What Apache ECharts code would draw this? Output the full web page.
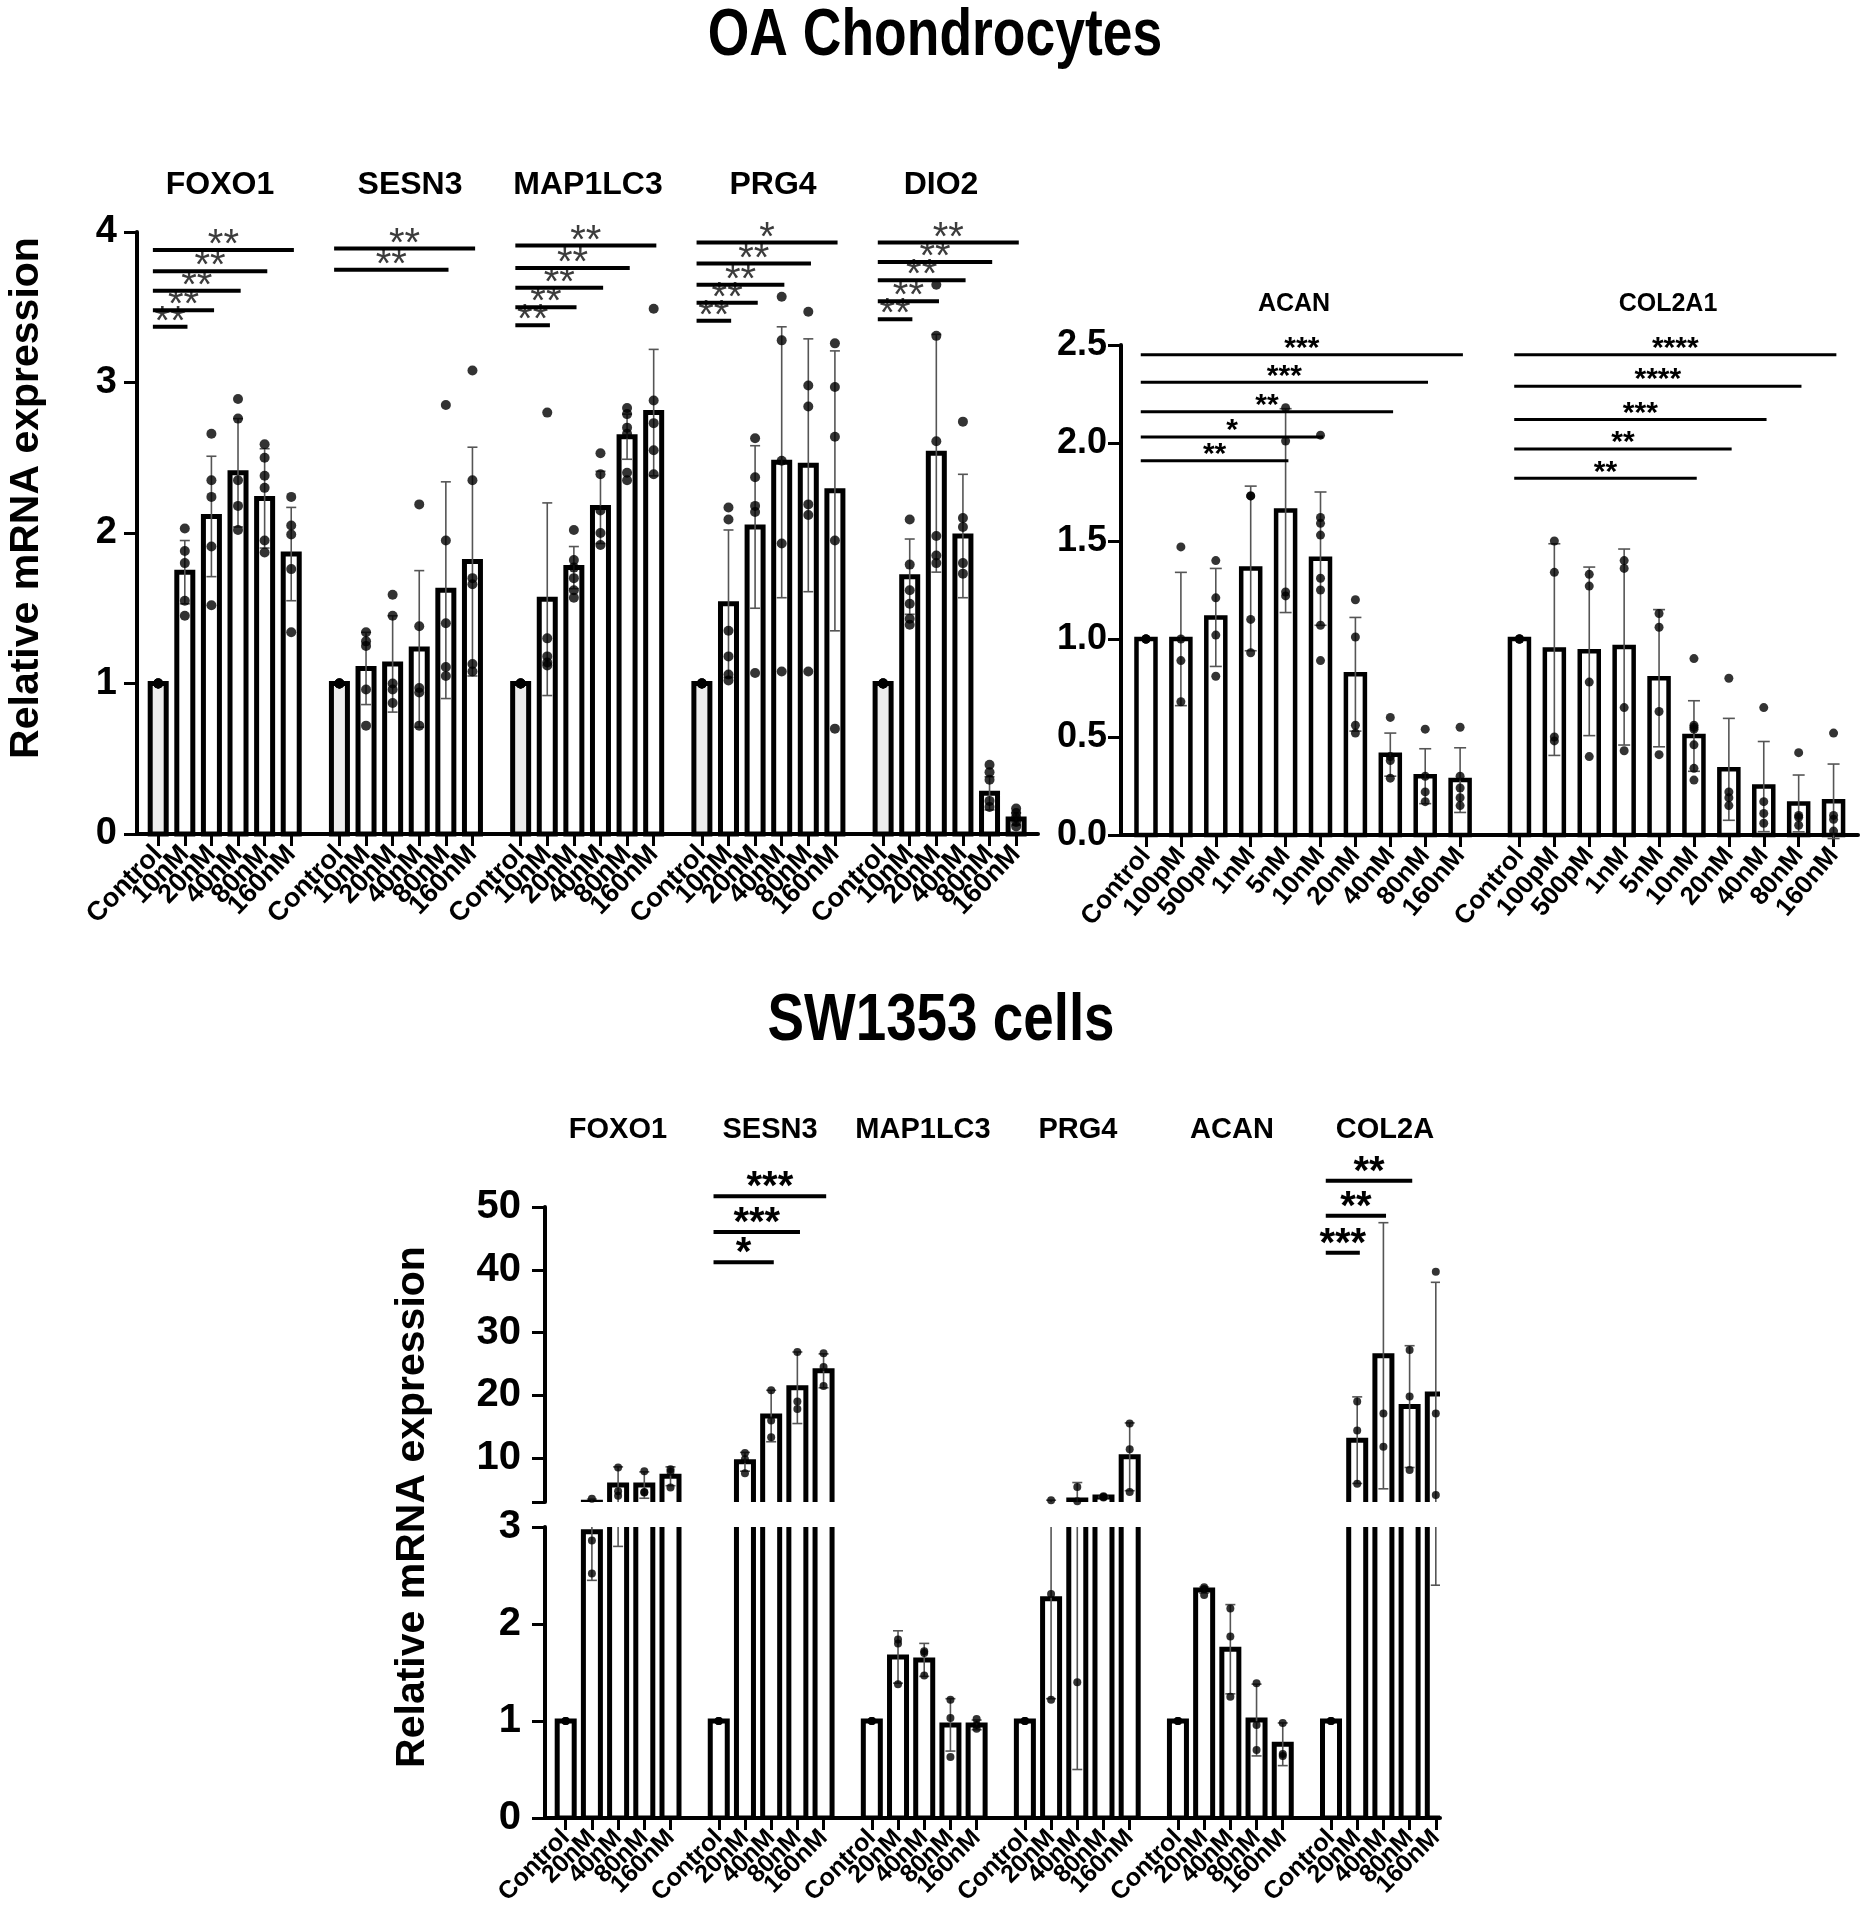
<!DOCTYPE html>
<html>
<head>
<meta charset="utf-8">
<script src="https://cdn.jsdelivr.net/npm/echarts@6/dist/echarts.min.js"></script>
<style>html,body{margin:0;padding:0;background:#fff}#chart{width:1868px;height:1920px}</style>
</head>
<body>
<div id="chart"></div>
<script>
// ================= DATA =================
// --- OA chondrocytes, left panel ---
const doseA = ['Control', '10nM', '20nM', '40nM', '80nM', '160nM'];
const genesA = ['FOXO1', 'SESN3', 'MAP1LC3', 'PRG4', 'DIO2'];

const FOXO1_mean = [1.00, 1.74, 2.11, 2.40, 2.23, 1.86];
const FOXO1_sd   = [0, 0.21, 0.40, 0.36, 0.33, 0.31];
const FOXO1_pts  = [[1,1,1,1,1],[2.03,1.88,1.80,1.55,1.45],[2.66,2.35,2.24,1.91,1.52],[2.89,2.76,2.35,2.18,2.02],[2.59,2.50,2.38,2.30,1.95,1.87],[2.24,2.05,1.99,1.76,1.34]];
const FOXO1_sig  = [[1,3.37,'**'],[2,3.48,'**'],[3,3.61,'**'],[4,3.74,'**'],[5,3.88,'**']];

const SESN3_mean = [1.00, 1.10, 1.13, 1.23, 1.62, 1.81];
const SESN3_sd   = [0, 0.24, 0.32, 0.52, 0.72, 0.76];
const SESN3_pts  = [[1,1,1,1,1],[1.34,1.28,1.25,0.96,0.72],[1.59,1.45,1.00,0.96,0.87],[2.19,1.38,0.97,0.94,0.72],[2.85,1.95,1.40,1.11,1.05],[3.08,2.35,1.70,1.66,1.13,1.08]];
const SESN3_sig  = [[4,3.75,'**'],[5,3.89,'**']];

const MAP1LC3_mean = [1.00, 1.56, 1.77, 2.17, 2.64, 2.80];
const MAP1LC3_sd   = [0, 0.64, 0.14, 0.24, 0.15, 0.42];
const MAP1LC3_pts  = [[1,1,1,1,1],[2.80,1.30,1.18,1.14,1.12],[2.02,1.82,1.77,1.70,1.62,1.57],[2.53,2.39,2.15,2.00,1.92],[2.83,2.79,2.70,2.66,2.40,2.35],[3.49,2.88,2.73,2.55,2.39]];
const MAP1LC3_sig  = [[1,3.38,'**'],[2,3.50,'**'],[3,3.63,'**'],[4,3.76,'**'],[5,3.91,'**']];

const PRG4_mean = [1.00, 1.53, 2.04, 2.47, 2.45, 2.28];
const PRG4_sd   = [0, 0.49, 0.54, 0.90, 0.84, 0.93];
const PRG4_pts  = [[1,1,1,1,1],[2.17,2.09,1.35,1.18,1.06,1.02],[2.63,2.37,2.18,2.14,1.07],[3.57,3.28,2.48,1.93,1.08],[3.47,2.98,2.84,2.19,2.12,1.08],[3.26,2.97,2.64,1.95,0.70]];
const PRG4_sig  = [[1,3.41,'**'],[2,3.53,'**'],[3,3.65,'**'],[4,3.79,'**'],[5,3.93,'*']];

const DIO2_mean = [1.00, 1.71, 2.53, 1.98, 0.27, 0.10];
const DIO2_sd   = [0, 0.25, 0.79, 0.41, 0.11, 0.04];
const DIO2_pts  = [[1,1,1,1,1],[2.09,1.79,1.62,1.53,1.43,1.39],[3.65,3.31,2.61,1.98,1.85,1.80],[2.74,2.10,2.04,1.80,1.73],[0.46,0.41,0.36,0.22,0.18],[0.17,0.14,0.11,0.08,0.05]];
const DIO2_sig  = [[1,3.42,'**'],[2,3.54,'**'],[3,3.68,'**'],[4,3.80,'**'],[5,3.93,'**']];

// --- OA chondrocytes, right panel ---
const doseB = ['Control', '100pM', '500pM', '1nM', '5nM', '10nM', '20nM', '40nM', '80nM', '160nM'];
const genesB = ['ACAN', 'COL2A1'];

const ACAN_mean = [1.00, 1.00, 1.11, 1.36, 1.655, 1.41, 0.82, 0.41, 0.30, 0.28];
const ACAN_sd   = [0, 0.34, 0.25, 0.42, 0.52, 0.34, 0.29, 0.11, 0.14, 0.165];
const ACAN_pts  = [[1,1,1,1],[1.47,1.00,0.89,0.68],[1.40,1.21,1.02,0.81],[1.73,1.73,1.10,0.93],[2.18,2.01,1.24,1.22],[2.04,1.62,1.59,1.53,1.31,1.25,1.07,0.89],[1.20,1.01,0.56,0.52],[0.60,0.40,0.38,0.29],[0.54,0.30,0.22,0.17],[0.55,0.30,0.24,0.19,0.15]];
const ACAN_sig  = [[4,1.91,'**'],[5,2.03,'*'],[7,2.16,'**'],[8,2.31,'***'],[9,2.45,'***']];

const COL2A1_mean = [1.00, 0.946, 0.937, 0.959, 0.80, 0.505, 0.335, 0.247, 0.161, 0.172];
const COL2A1_sd   = [0, 0.54, 0.43, 0.50, 0.35, 0.18, 0.26, 0.23, 0.145, 0.19];
const COL2A1_pts  = [[1,1,1,1],[1.50,1.34,0.50,0.48],[1.33,1.27,0.78,0.40],[1.40,1.36,0.65,0.43],[1.13,1.06,0.63,0.41],[0.90,0.56,0.55,0.54,0.46,0.34,0.28],[0.80,0.22,0.19,0.15],[0.65,0.17,0.11,0.06],[0.42,0.10,0.09,0.05],[0.52,0.10,0.08,0.02]];
const COL2A1_sig  = [[5,1.82,'**'],[6,1.97,'**'],[7,2.12,'***'],[8,2.29,'****'],[9,2.45,'****']];

// --- SW1353 cells ---
const doseC = ['Control', '20nM', '40nM', '80nM', '160nM'];
const genesC = ['FOXO1', 'SESN3', 'MAP1LC3', 'PRG4', 'ACAN', 'COL2A'];

const swFOXO1_mean = [1, 2.95, 5.7, 5.7, 7.1];
const swFOXO1_sd   = [0, 0.5, 2.9, 2.1, 1.5];
const swFOXO1_pts  = [[1,1,1],[3.5,2.86,2.52],[8.5,4.7,4.0],[7.9,4.6,4.5],[8.2,7.8,5.3]];

const swSESN3_mean = [1, 9.4, 16.7, 21.2, 23.9];
const swSESN3_sd   = [0, 1.5, 4.1, 5.7, 2.7];
const swSESN3_pts  = [[1,1,1],[10.8,9.8,7.6],[20.8,16.0,13.3],[26.9,19.0,17.8],[26.7,24.5,21.5]];
const swSESN3_sig  = [[2,41.2,'*'],[3,46.0,'***'],[4,51.7,'***']];

const swMAP1LC3_mean = [1, 1.66, 1.63, 0.96, 0.96];
const swMAP1LC3_sd   = [0, 0.27, 0.17, 0.27, 0.05];
const swMAP1LC3_pts  = [[1,1,1],[1.84,1.80,1.38],[1.72,1.70,1.47],[1.22,1.03,0.63],[1.02,0.96,0.92]];

const swPRG4_mean = [1, 2.26, 3.3, 3.8, 10.2];
const swPRG4_sd   = [0, 1.03, 2.8, 0.1, 5.4];
const swPRG4_pts  = [[1,1,1],[3.27,2.31,1.22],[5.4,3.1,1.4],[3.9,3.8,3.7],[15.5,11.4,4.6]];

const swACAN_mean = [1, 2.35, 1.74, 1.01, 0.76];
const swACAN_sd   = [0, 0.03, 0.46, 0.37, 0.22];
const swACAN_pts  = [[1,1,1],[2.38,2.36,2.30],[2.16,1.87,1.25],[1.39,0.96,0.70],[0.98,0.66,0.64]];

const swCOL2A_mean = [1, 12.85, 26.3, 18.2, 20.2];
const swCOL2A_sd   = [0, 6.9, 21.2, 9.7, 17.8];
const swCOL2A_pts  = [[1,1,1],[19.0,14.4,5.9],[17.1,11.8],[27.2,19.8,8.1],[39.7,17.1,4.1]];
const swCOL2A_sig  = [[1,42.7,'***'],[2,48.6,'**'],[3,54.2,'**']];

const ticksCUpper = [3, 10, 20, 30, 40, 50];
const labelsCUpper = [10, 20, 30, 40, 50];

// ================= BUILD =================
const FONT = '"Liberation Sans", Arial, Helvetica, sans-serif';

function assemble(genes, list, doses, step) {
  const bars = [], errs = [], dots = [], sigs = [], sigText = [], ticks = [], labels = {};
  genes.forEach((name, gi) => {
    const g = list[gi];
    doses.forEach((d, i) => {
      const x = +(gi * step + i).toFixed(3);
      ticks.push(x);
      labels[Math.round(x * 1000)] = d;
      bars.push([x, g.mean[i], i === 0 ? 1 : 0]);
      if (g.sd[i] > 0) errs.push([x, g.mean[i] - g.sd[i], g.mean[i] + g.sd[i]]);
      g.pts[i].forEach(v => dots.push([x, v]));
    });
    (g.sig || []).forEach(s => {
      sigs.push([gi * step, gi * step + s[0], s[1]]);
      sigText.push(s[2]);
    });
  });
  return { bars, errs, dots, sigs, sigText, ticks, labels };
}

const A = assemble(genesA, [
  { mean: FOXO1_mean, sd: FOXO1_sd, pts: FOXO1_pts, sig: FOXO1_sig },
  { mean: SESN3_mean, sd: SESN3_sd, pts: SESN3_pts, sig: SESN3_sig },
  { mean: MAP1LC3_mean, sd: MAP1LC3_sd, pts: MAP1LC3_pts, sig: MAP1LC3_sig },
  { mean: PRG4_mean, sd: PRG4_sd, pts: PRG4_pts, sig: PRG4_sig },
  { mean: DIO2_mean, sd: DIO2_sd, pts: DIO2_pts, sig: DIO2_sig }
], doseA, 6.812);

const B = assemble(genesB, [
  { mean: ACAN_mean, sd: ACAN_sd, pts: ACAN_pts, sig: ACAN_sig },
  { mean: COL2A1_mean, sd: COL2A1_sd, pts: COL2A1_pts, sig: COL2A1_sig }
], doseB, 10.70);

const C = assemble(genesC, [
  { mean: swFOXO1_mean, sd: swFOXO1_sd, pts: swFOXO1_pts },
  { mean: swSESN3_mean, sd: swSESN3_sd, pts: swSESN3_pts, sig: swSESN3_sig },
  { mean: swMAP1LC3_mean, sd: swMAP1LC3_sd, pts: swMAP1LC3_pts },
  { mean: swPRG4_mean, sd: swPRG4_sd, pts: swPRG4_pts },
  { mean: swACAN_mean, sd: swACAN_sd, pts: swACAN_pts },
  { mean: swCOL2A_mean, sd: swCOL2A_sd, pts: swCOL2A_pts, sig: swCOL2A_sig }
], doseC, 5.842);

function barSeries(ax, data, bw, lw, ctrlFill, clip) {
  return {
    type: 'custom', xAxisIndex: ax, yAxisIndex: ax, clip: clip, z: 2, data: data,
    encode: { x: 0, y: 1 },
    renderItem: function (p, api) {
      const x = api.value(0), m = api.value(1), c = api.value(2);
      const b = api.coord([x, 0]), t = api.coord([x, m]);
      return {
        type: 'rect',
        shape: { x: b[0] - bw / 2, y: t[1], width: bw, height: b[1] - t[1] },
        style: { fill: c ? ctrlFill : '#ffffff', stroke: '#000', lineWidth: lw }
      };
    }
  };
}
function errSeries(ax, data, capW, lw, col, clip) {
  return {
    type: 'custom', xAxisIndex: ax, yAxisIndex: ax, clip: clip, z: 3, data: data,
    encode: { x: 0, y: [1, 2] },
    renderItem: function (p, api) {
      const x = api.value(0);
      const lo = api.coord([x, api.value(1)]), hi = api.coord([x, api.value(2)]);
      const h = capW / 2, st = { stroke: col, lineWidth: lw };
      return {
        type: 'group', children: [
          { type: 'line', shape: { x1: lo[0], y1: lo[1], x2: hi[0], y2: hi[1] }, style: st },
          { type: 'line', shape: { x1: hi[0] - h, y1: hi[1], x2: hi[0] + h, y2: hi[1] }, style: st },
          { type: 'line', shape: { x1: lo[0] - h, y1: lo[1], x2: lo[0] + h, y2: lo[1] }, style: st }
        ]
      };
    }
  };
}
function dotSeries(ax, data, size) {
  return {
    type: 'scatter', xAxisIndex: ax, yAxisIndex: ax, z: 4, data: data, symbolSize: size,
    itemStyle: { color: '#000' }, clip: true, silent: true
  };
}
function sigSeries(ax, data, texts, o) {
  return {
    type: 'custom', xAxisIndex: ax, yAxisIndex: ax, clip: false, z: 5, data: data,
    encode: { x: [0, 1], y: 2 },
    renderItem: function (p, api) {
      const a = api.coord([api.value(0) + o.s, api.value(2)]);
      const b = api.coord([api.value(1) + o.e, api.value(2)]);
      return {
        type: 'group', children: [
          { type: 'line', shape: { x1: a[0], y1: a[1], x2: b[0], y2: b[1] }, style: { stroke: '#000', lineWidth: o.lw } },
          { type: 'text', x: (a[0] + b[0]) / 2, y: a[1] - o.off,
            style: { text: texts[p.dataIndex], fill: o.col, fontSize: o.fs, fontWeight: o.fw, fontFamily: FONT,
                     align: 'center', verticalAlign: 'middle' } }
        ]
      };
    }
  };
}
function xAxisCfg(ax, min, max, d, rot, fs, show) {
  // empty guard labels at both ends keep the real end labels from being dropped
  const labelVals = [min + 0.001].concat(d.ticks, [max - 0.001]);
  return {
    gridIndex: ax, type: 'value', min: min, max: max, show: show,
    axisLine: { show: true, onZero: false, lineStyle: { color: '#000', width: 4 } },
    axisTick: { show: true, customValues: d.ticks, length: 12, lineStyle: { color: '#000', width: 3 } },
    axisLabel: { show: true, customValues: labelVals, rotate: rot, fontSize: fs, fontWeight: 'bold', color: '#000',
                 margin: 16, fontFamily: FONT, showMinLabel: false, showMaxLabel: false, hideOverlap: false,
                 formatter: v => d.labels[Math.round(v * 1000)] || '' },
    splitLine: { show: false }
  };
}
function yAxisCfg(ax, min, max, interval, fs, margin, extra) {
  const c = {
    gridIndex: ax, type: 'value', min: min, max: max,
    axisLine: { show: true, onZero: false, lineStyle: { color: '#000', width: 4 } },
    axisTick: { show: true, length: 13, lineStyle: { color: '#000', width: 3 } },
    axisLabel: { show: true, fontSize: fs, fontWeight: 'bold', color: '#000', margin: margin, fontFamily: FONT,
                 showMinLabel: true, showMaxLabel: true },
    splitLine: { show: false }
  };
  if (interval) c.interval = interval;
  return Object.assign(c, extra || {});
}

const gridBase = { containLabel: false, outerBoundsMode: 'none' };

function txt(x, y, s, fs, extra) {
  return Object.assign({
    type: 'text', x: x, y: y, silent: true,
    style: { text: s, fontSize: fs, fontWeight: 'bold', fontFamily: FONT, fill: '#000',
             align: 'center', verticalAlign: 'middle', textAlign: 'center', textVerticalAlign: 'middle' }
  }, extra || {});
}

const option = {
  animation: false,
  backgroundColor: '#ffffff',
  textStyle: { fontFamily: FONT },
  grid: [
    Object.assign({ left: 137, top: 232, width: 901, height: 602 }, gridBase),
    Object.assign({ left: 1121, top: 345, width: 737, height: 490 }, gridBase),
    Object.assign({ left: 545, top: 1207, width: 895, height: 295 }, gridBase),
    Object.assign({ left: 545, top: 1527, width: 895, height: 291 }, gridBase)
  ],
  xAxis: [
    xAxisCfg(0, -0.797, 33.07, A, 46, 27, true),
    xAxisCfg(1, -0.716, 20.40, B, 50, 26, true),
    xAxisCfg(2, -0.79, 33.37, C, 45, 25, false),
    xAxisCfg(3, -0.79, 33.37, C, 45, 25, true)
  ],
  yAxis: [
    yAxisCfg(0, 0, 4, 1, 38, 20),
    yAxisCfg(1, 0, 2.5, 0.5, 36, 14, { axisLabel: { show: true, fontSize: 36, fontWeight: 'bold', color: '#000', margin: 14, fontFamily: FONT, showMinLabel: true, showMaxLabel: true, formatter: v => v.toFixed(1) } }),
    yAxisCfg(2, 3, 50, null, 40, 24, {
      axisTick: { show: true, customValues: ticksCUpper, length: 13, lineStyle: { color: '#000', width: 3 } },
      axisLabel: { show: true, customValues: labelsCUpper, fontSize: 40, fontWeight: 'bold', color: '#000', margin: 24, fontFamily: FONT, showMaxLabel: true }
    }),
    yAxisCfg(3, 0, 3, 1, 40, 24)
  ],
  series: [
    barSeries(0, A.bars, 16, 5, '#ececec', false),
    errSeries(0, A.errs, 10, 1.6, '#555', false),
    dotSeries(0, A.dots, 10),
    sigSeries(0, A.sigs, A.sigText, { s: -0.2, e: 0.1, lw: 4, fs: 40, fw: 'normal', col: '#3c3c3c', off: 4 }),

    barSeries(1, B.bars, 19, 4.5, '#ffffff', false),
    errSeries(1, B.errs, 12, 1.6, '#555', false),
    dotSeries(1, B.dots, 9),
    sigSeries(1, B.sigs, B.sigText, { s: -0.15, e: 0.08, lw: 3, fs: 30, fw: 'bold', col: '#000', off: 6 }),

    barSeries(2, C.bars, 17, 5, '#ffffff', true),
    errSeries(2, C.errs, 10, 1.6, '#555', true),
    dotSeries(2, C.dots, 8),
    sigSeries(2, C.sigs, C.sigText, { s: -0.2, e: 0.1, lw: 4, fs: 40, fw: 'bold', col: '#000', off: 8 }),

    barSeries(3, C.bars, 17, 5, '#ffffff', true),
    errSeries(3, C.errs, 10, 1.6, '#555', true),
    dotSeries(3, C.dots, 8)
  ],
  graphic: [
    txt(935, 37, 'OA Chondrocytes', 66, { scaleX: 0.81, originX: 0, originY: 0 }),
    txt(941, 1022, 'SW1353 cells', 66, { scaleX: 0.83, originX: 0, originY: 0 }),
    txt(27, 498, 'Relative mRNA expression', 41, { rotation: Math.PI / 2 }),
    txt(413, 1507, 'Relative mRNA expression', 41, { rotation: Math.PI / 2 }),
    // left panel gene titles
    txt(220, 185, genesA[0], 32), txt(410, 185, genesA[1], 32), txt(588, 185, genesA[2], 32),
    txt(773, 185, genesA[3], 32), txt(941, 185, genesA[4], 32),
    // right panel gene titles
    txt(1294, 304, genesB[0], 25), txt(1668, 304, genesB[1], 25),
    // SW1353 gene titles
    txt(618, 1130, genesC[0], 29), txt(770, 1130, genesC[1], 29), txt(923, 1130, genesC[2], 29),
    txt(1078, 1130, genesC[3], 29), txt(1232, 1130, genesC[4], 29), txt(1385, 1130, genesC[5], 29)
  ]
};

const chart = echarts.init(document.getElementById('chart'), null, { renderer: 'canvas' });
chart.setOption(option);
</script>
</body>
</html>
